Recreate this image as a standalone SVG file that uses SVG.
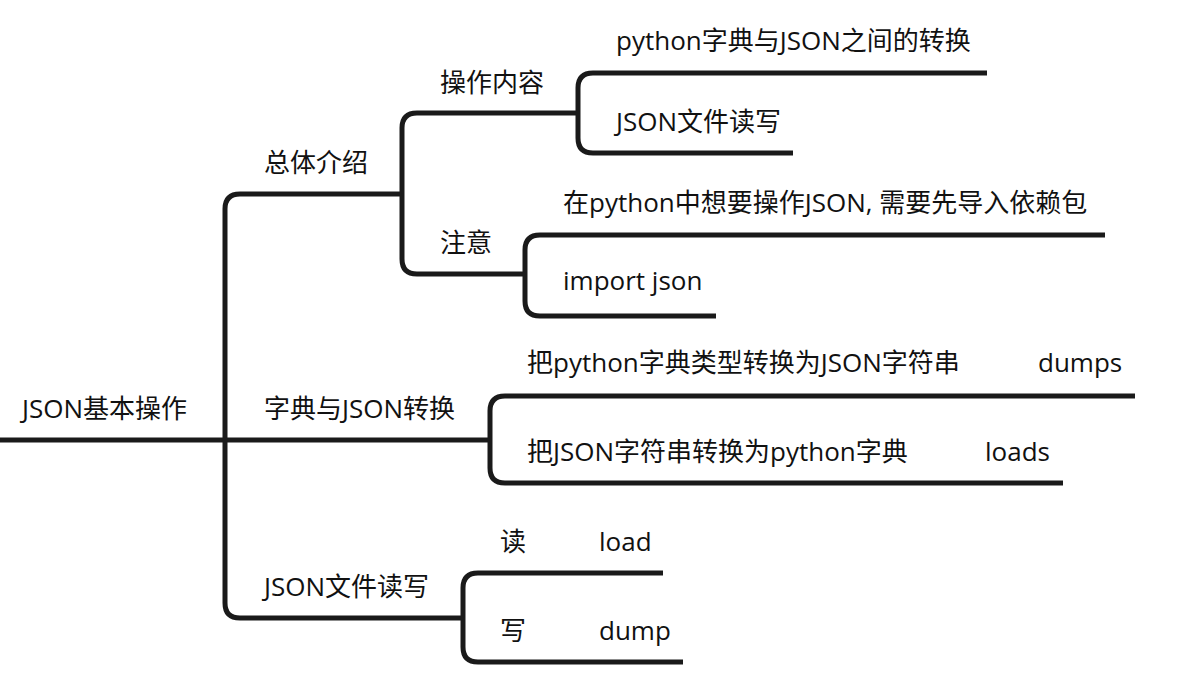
<svg xmlns="http://www.w3.org/2000/svg" width="1190" height="678" viewBox="0 0 1190 678">
<style>
.c{fill:none;stroke:#1a1a1a;stroke-width:5;stroke-linecap:butt;stroke-linejoin:round}
text{font-family:"Open Sans","Noto Sans CJK SC",sans-serif;font-size:26px;fill:#111}
</style>
<rect width="1190" height="678" fill="#fff"/>
<g id="connectors">
<path class="c" d="M0,440 H225"/>
<path class="c" d="M225,440 V209 Q225,194 240,194 H402"/>
<path class="c" d="M225,440 H490"/>
<path class="c" d="M225,440 V603 Q225,618 240,618 H463"/>
<path class="c" d="M402,194 V128 Q402,113 417,113 H578"/>
<path class="c" d="M402,194 V259 Q402,274 417,274 H525"/>
<path class="c" d="M578,113 V88 Q578,73 593,73 H987"/>
<path class="c" d="M578,113 V138 Q578,153 593,153 H793"/>
<path class="c" d="M525,274 V250 Q525,235 540,235 H1105"/>
<path class="c" d="M525,274 V301 Q525,316 540,316 H716"/>
<path class="c" d="M490,440 V411 Q490,396 505,396 H1135"/>
<path class="c" d="M490,440 V468 Q490,483 505,483 H1063"/>
<path class="c" d="M463,618 V588 Q463,573 478,573 H663"/>
<path class="c" d="M463,618 V647 Q463,662 478,662 H683"/>
</g>
<g id="root"><text x="22" y="418">JSON基本操作</text></g>
<g id="n-intro"><text x="264" y="172">总体介绍</text></g>
<g id="n-content"><text x="440" y="92">操作内容</text></g>
<g id="n-content-1"><text x="616" y="50">python字典与JSON之间的转换</text></g>
<g id="n-content-2"><text x="616" y="131">JSON文件读写</text></g>
<g id="n-note"><text x="440" y="252">注意</text></g>
<g id="n-note-1"><text x="563" y="212">在python中想要操作JSON, 需要先导入依赖包</text></g>
<g id="n-note-2"><text x="563" y="290">import json</text></g>
<g id="n-conv"><text x="264" y="418">字典与JSON转换</text></g>
<g id="n-conv-1"><text x="527" y="372">把python字典类型转换为JSON字符串</text><text x="1038" y="372">dumps</text></g>
<g id="n-conv-2"><text x="527" y="461">把JSON字符串转换为python字典</text><text x="985" y="461">loads</text></g>
<g id="n-file"><text x="264" y="596">JSON文件读写</text></g>
<g id="n-file-1"><text x="500" y="551">读</text><text x="599" y="551">load</text></g>
<g id="n-file-2"><text x="500" y="640">写</text><text x="599" y="640">dump</text></g>
</svg>
